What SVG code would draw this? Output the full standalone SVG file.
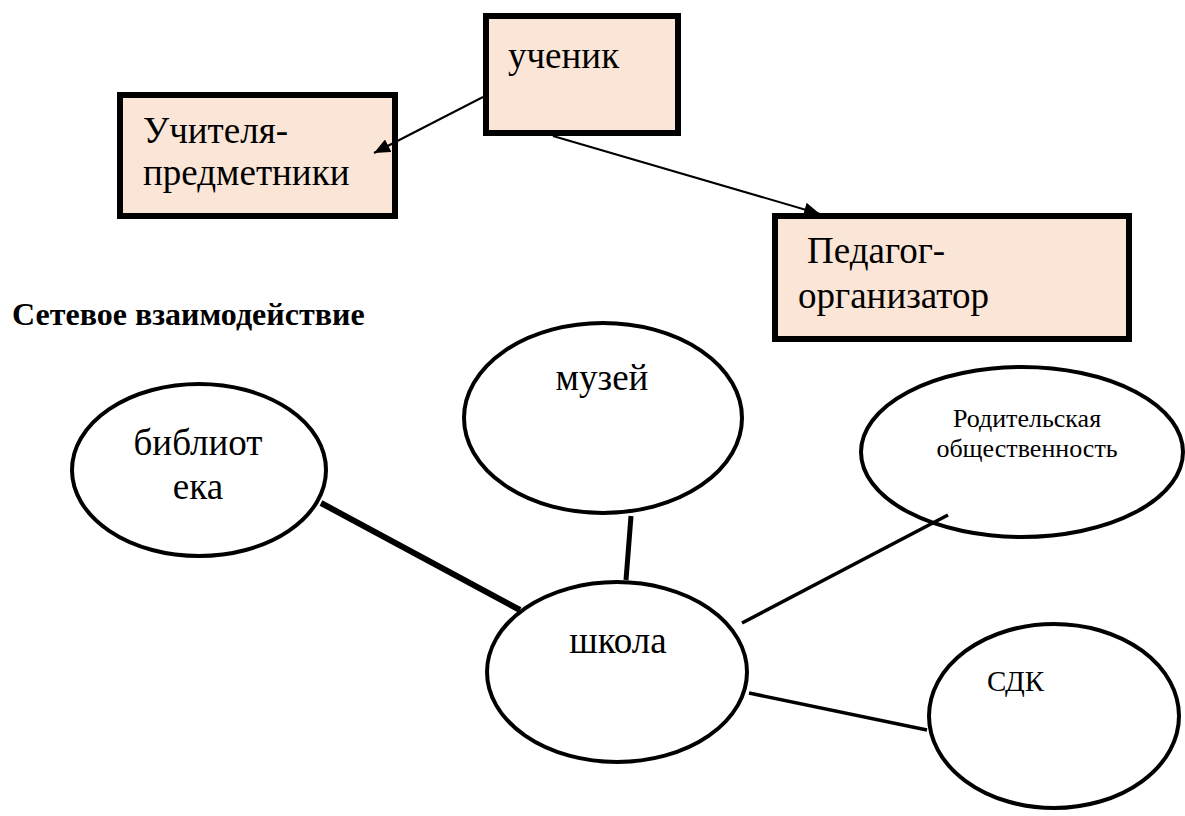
<svg xmlns="http://www.w3.org/2000/svg" width="1185" height="816" viewBox="0 0 1185 816">
<style>
.box{fill:#FBE5D6;stroke:#000;stroke-width:6}
.ell{fill:#fff;stroke:#000;stroke-width:4}
text{font-family:"Liberation Serif","DejaVu Serif","Times New Roman",serif;fill:#000}
.t{font-size:37px}
.s{font-size:26px}
.m{text-anchor:middle}
.title{font-size:32px;font-weight:bold}
.arr{stroke:#000;stroke-width:2;fill:none;marker-end:url(#ah)}
.ln{stroke:#000;fill:none}
</style>
<defs>
<marker id="ah" markerUnits="userSpaceOnUse" markerWidth="16" markerHeight="14" viewBox="0 0 16 14" refX="16" refY="7" orient="auto">
<path d="M0,0 L16,7 L0,14 z" fill="#000"/>
</marker>
</defs>
<g id="uchenik">
<rect class="box" x="486" y="16" width="192" height="117"/>
<text class="t" x="508" y="68" font-family="Liberation Serif, DejaVu Serif, serif">ученик</text>
</g>
<g id="uchitelya">
<rect class="box" x="120" y="95" width="275" height="121"/>
<text class="t" x="143" y="143" font-family="Liberation Serif, DejaVu Serif, serif">Учителя-</text>
<text class="t" x="143" y="185" font-family="Liberation Serif, DejaVu Serif, serif">предметники</text>
</g>
<g id="pedagog">
<rect class="box" x="775" y="216" width="354" height="123"/>
<text class="t" x="807" y="263" font-family="Liberation Serif, DejaVu Serif, serif">Педагог-</text>
<text class="t" x="798" y="308" font-family="Liberation Serif, DejaVu Serif, serif">организатор</text>
</g>
<text id="title" class="title" x="12" y="325" font-family="Liberation Serif, DejaVu Serif, serif">Сетевое взаимодействие</text>
<g id="biblioteka">
<ellipse class="ell" cx="199" cy="470" rx="127" ry="86"/>
<text class="t m" x="198" y="455" font-family="Liberation Serif, DejaVu Serif, serif">библиот</text>
<text class="t m" x="198" y="499" font-family="Liberation Serif, DejaVu Serif, serif">ека</text>
</g>
<g id="muzey">
<ellipse class="ell" cx="603" cy="418" rx="139" ry="95"/>
<text class="t m" x="602" y="390" font-family="Liberation Serif, DejaVu Serif, serif">музей</text>
</g>
<g id="roditelskaya">
<ellipse class="ell" cx="1022" cy="452" rx="161" ry="85"/>
<text class="s m" x="1027" y="427" font-family="Liberation Serif, DejaVu Serif, serif">Родительская</text>
<text class="s m" x="1027" y="457" font-family="Liberation Serif, DejaVu Serif, serif">общественность</text>
</g>
<g id="shkola">
<ellipse class="ell" cx="617" cy="672" rx="130" ry="90"/>
<text class="t m" x="618" y="653" font-family="Liberation Serif, DejaVu Serif, serif">школа</text>
</g>
<g id="sdk">
<ellipse class="ell" cx="1054" cy="716" rx="125" ry="92"/>
<text x="987" y="691" font-size="29" font-family="Liberation Serif, DejaVu Serif, serif">СДК</text>
</g>
<g id="connectors">
<line class="arr" x1="483" y1="97" x2="374" y2="153"/>
<line class="arr" x1="553" y1="136" x2="820" y2="214"/>
<line class="ln" x1="321" y1="503" x2="520" y2="610" stroke-width="6"/>
<line class="ln" x1="631" y1="516" x2="626" y2="580" stroke-width="5"/>
<line class="ln" x1="742" y1="623" x2="948" y2="515" stroke-width="3.5"/>
<line class="ln" x1="749" y1="693" x2="927" y2="730" stroke-width="3.5"/>
</g>
</svg>
